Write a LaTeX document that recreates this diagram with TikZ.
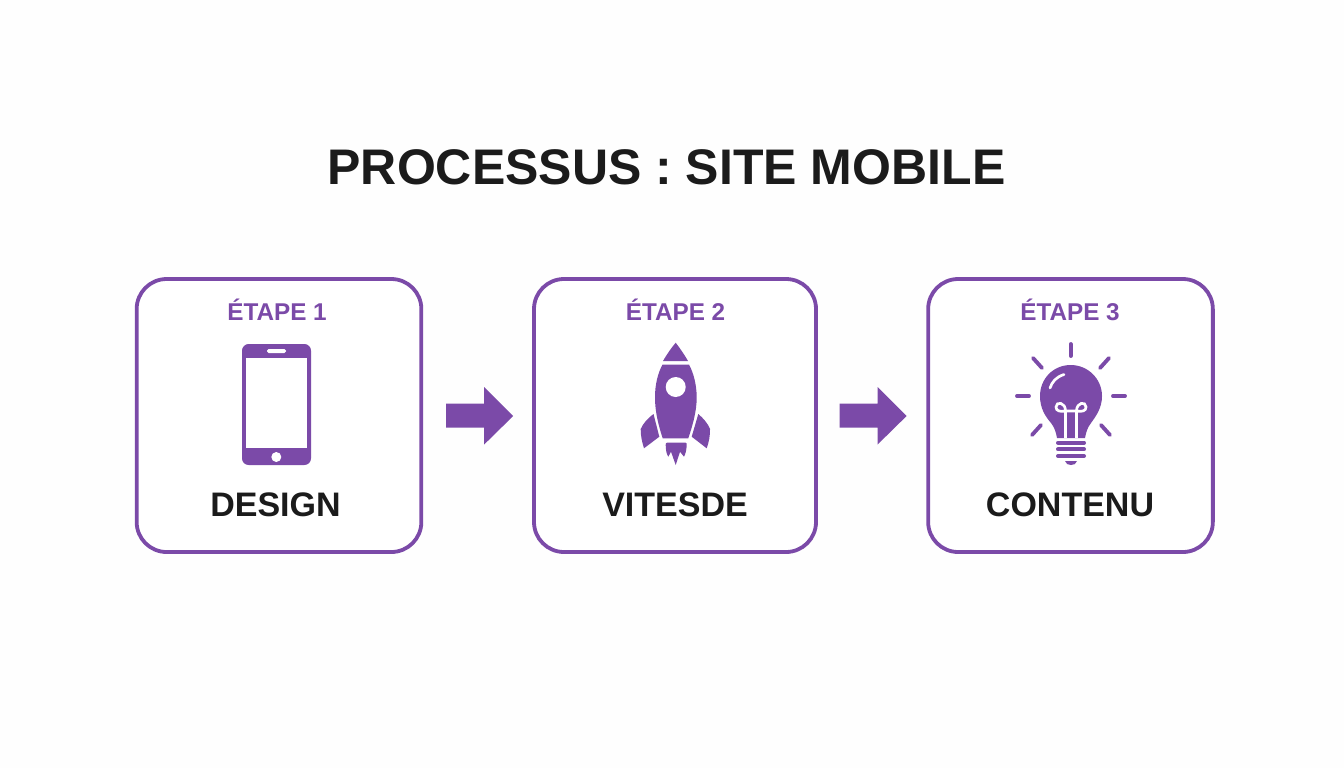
\documentclass[tikz,border=0pt]{standalone}
\usepackage{fontspec}
\setmainfont{Liberation Sans}[BoldFont={Liberation Sans Bold}]
\usetikzlibrary{calc}
\definecolor{vio}{HTML}{7B4AA8}
\definecolor{ink}{HTML}{1B1B1B}
\tikzset{
  stepcard/.style={draw=vio,line width=2.85pt,rounded corners=22.5pt,minimum width=213.5pt,minimum height=204.75pt,inner sep=0pt,fill=white},
  titletext/.style={text=ink,font=\bfseries\fontsize{37.5}{40}\selectfont,anchor=base,inner sep=0pt},
  steptext/.style={text=vio,font=\bfseries\fontsize{18.2}{20}\selectfont,anchor=base,inner sep=0pt},
  nametext/.style={text=ink,font=\bfseries\fontsize{25.5}{28}\selectfont,anchor=base,inner sep=0pt},
  iconfill/.style={fill=vio,draw=none},
  cutout/.style={fill=white,draw=none},
  ray/.style={draw=vio,line width=2.9pt,line cap=round},
  glow/.style={draw=white,fill=none,line cap=round},
  blockarrow/.style={fill=vio,draw=none},
}
\begin{document}
\begin{tikzpicture}[x=0.75pt,y=-0.75pt]
\useasboundingbox (0,0) rectangle (1344,768);
\fill[white!99.5!black] (0,0) rectangle (1344,768);
\node[titletext] (title) at (666.5,184.5) {PROCESSUS : SITE MOBILE};
\node[stepcard] (box1) at (279,415.5) {};
\node[stepcard,minimum width=211.5pt] (box2) at (675,415.5) {};
\node[stepcard] (box3) at (1070.5,415.5) {};
\node[steptext] (s1) at (277,320) {ÉTAPE 1};
\node[steptext] (s2) at (675.5,320) {ÉTAPE 2};
\node[steptext] (s3) at (1070,320) {ÉTAPE 3};
\node[nametext] (n1) at (275.5,516) {DESIGN};
\node[nametext] (n2) at (675,516) {VITESDE};
\node[nametext] (n3) at (1070,516) {CONTENU};
% block arrows
\foreach \a/\b/\dx in {box1/box2/2,box2/box3/1}{
  \begin{scope}[shift={($(\a.east)!0.5!(\b.west)$)},xshift=\dx*0.75pt]
    \fill[blockarrow] (-33.5,-12) -- (4.5,-12) -- (4.5,-28.5) -- (33.5,0.5) -- (4.5,29) -- (4.5,12) -- (-33.5,12) -- cycle;
  \end{scope}
}
% phone
\fill[iconfill,rounded corners=5pt] (242,344) rectangle (311,465);
\fill[cutout] (246,358) rectangle (307,448);
\fill[cutout,rounded corners=1.2pt] (267,349) rectangle (286,353);
\fill[cutout] (276.3,457) circle (5);
% rocket
\fill[iconfill] (663,361) .. controls (667,354) and (672,347) .. (675.7,342.7) .. controls (679,347) and (684,354) .. (688,361) -- cycle;
\fill[iconfill] (662.5,364.5) -- (689,364.5) .. controls (693.5,373) and (696.5,384) .. (696.7,397) .. controls (696.8,412) and (692,427) .. (688.3,438.3) -- (662.7,438.3) .. controls (659,427) and (654.8,412) .. (655,397) .. controls (655,384) and (658,373) .. (662.5,364.5) -- cycle;
\fill[cutout] (675.7,387) circle (10);
\fill[iconfill] (653.5,414) -- (659.3,436.7) -- (644,448.3) .. controls (642,442) and (640.5,435) .. (640.7,429) .. controls (643,423.5) and (648,418) .. (653.5,414) -- cycle;
\fill[iconfill] (698.3,414) -- (691.7,436.7) -- (706.7,448.3) .. controls (709,442) and (710.2,435) .. (710,429) .. controls (708,423.5) and (703,418) .. (698.3,414) -- cycle;
\fill[iconfill] (667,442.7) -- (685.5,442.7) .. controls (686.8,442.7) and (686.8,444) .. (686.7,445) .. controls (686.5,450) and (685.5,454) .. (684,456.7) -- (680,451.7) -- (675.7,465) -- (671,451.7) -- (668.3,456.7) .. controls (666.5,454) and (665.7,450) .. (665.7,445) .. controls (665.6,444) and (665.8,442.7) .. (667,442.7) -- cycle;
% bulb
\fill[iconfill] (1070.7,365) .. controls (1088,365) and (1102,379) .. (1102,396) .. controls (1102,408) and (1096,416) .. (1091,423) .. controls (1087,428) and (1086,433) .. (1085,438) -- (1057,438) .. controls (1056,433) and (1055,428) .. (1051,423) .. controls (1045,416) and (1040,408) .. (1040,396) .. controls (1040,379) and (1053,365) .. (1070.7,365) -- cycle;
\draw[glow,line width=2pt] (1050,388) .. controls (1052,382) and (1056,377) .. (1064,374.5);
\draw[glow,line width=2pt,line cap=butt] (1065.5,438) -- (1065.5,411) .. controls (1065.5,402) and (1056,401) .. (1056,407) .. controls (1056,411) and (1060,412) .. (1065.5,411) -- (1076.5,411) .. controls (1082,412) and (1086,411) .. (1086,407) .. controls (1086,401) and (1076.5,402) .. (1076.5,411) -- (1076.5,438);
\foreach \yy in {442.7,449.3,456}{
  \draw[draw=vio,line width=3pt,line cap=round] (1058,\yy) -- (1084,\yy);
}
\fill[iconfill] (1065,461) -- (1077,461) .. controls (1076,464) and (1074,465) .. (1071,465) .. controls (1068,465) and (1066,464) .. (1065,461) -- cycle;
\draw[ray] (1070.7,344) -- (1070.7,356);
\draw[ray] (1033,358) -- (1042,368);
\draw[ray] (1109,358) -- (1100,368);
\draw[ray] (1017,396) -- (1029,396);
\draw[ray] (1113,396) -- (1125,396);
\draw[ray] (1032,435) -- (1041,425);
\draw[ray] (1110,435) -- (1101,425);
\end{tikzpicture}
\end{document}
